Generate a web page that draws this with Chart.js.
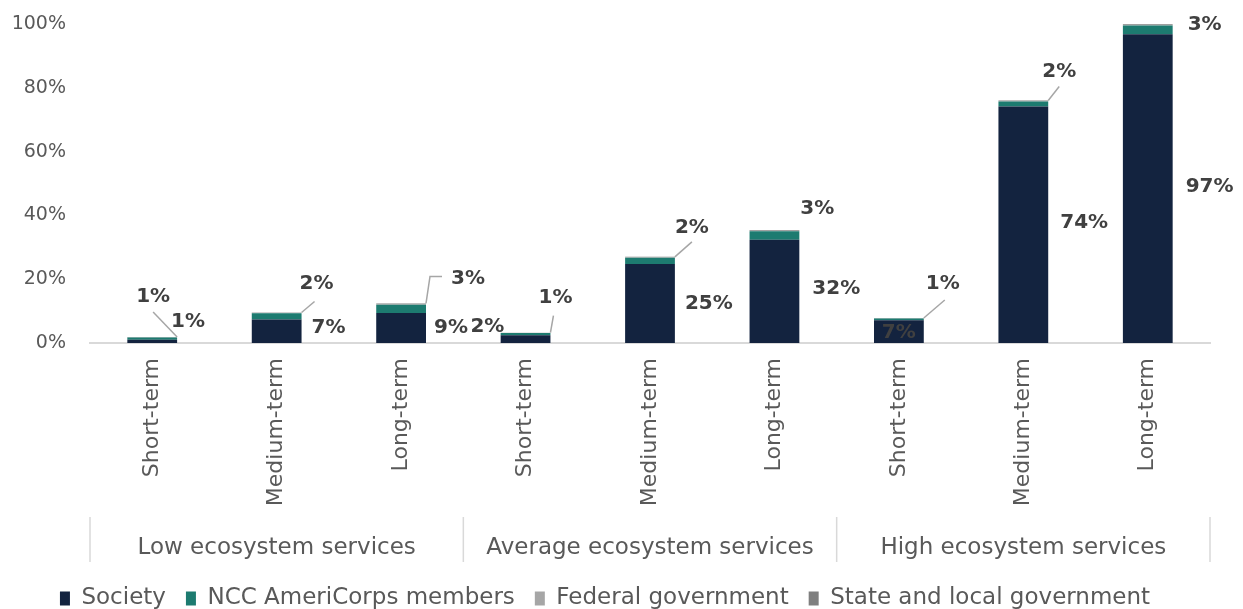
<!DOCTYPE html>
<html>
<head>
<meta charset="utf-8">
<script src="https://cdn.jsdelivr.net/npm/chart.js@4/dist/chart.umd.min.js"></script>
<style>
html,body{margin:0;padding:0;background:#fff;}
#wrap{width:1243px;height:609px;position:relative;}
</style>
</head>
<body>
<div id="wrap"><canvas id="c" width="1243" height="609"></canvas></div>
<script>
const categories = ['Short-term','Medium-term','Long-term','Short-term','Medium-term','Long-term','Short-term','Medium-term','Long-term'];
const groups = ['Low ecosystem services','Average ecosystem services','High ecosystem services'];
const society = [1.0, 7.4, 9.4, 2.4, 24.8, 32.4, 7.1, 74.1, 96.8];
const ncc = [0.7, 1.9, 2.6, 0.7, 1.9, 2.6, 0.6, 1.6, 2.7];
const federal = [0.1, 0.15, 0.2, 0.1, 0.15, 0.2, 0.1, 0.15, 0.2];
const stateLocal = [0.05, 0.1, 0.2, 0.05, 0.15, 0.2, 0.05, 0.15, 0.2];
const seriesNames = ['Society','NCC AmeriCorps members','Federal government','State and local government'];
const yTicks = [0, 20, 40, 60, 80, 100];

// label layout (offsets relative to bar geometry)
const socLabelShift = [[-6,-20],[10,-3],[8,0],[-80,-12],[10,0],[13,-3],[-42,1],[12,-2],[13,-2]];
const nccLabelShift = [[-24,-40],[15,-29],[42,-25],[5,-35],[17,-29],[18,-21],[19,-34],[11,-29],[32,0]];
const leaders = [[[-24,-25]],[[13,-11]],[[4,-27],[16,-27]],[[3,-17]],[[17,-15]],[],[[21,-18]],[[11,-14]],[]];

const FONT = '"DejaVu Sans", sans-serif';
const colors = ['#13233f', '#1d7b70', '#a6a6a6', '#7f7f7f'];

const labelPlugin = {
  id: 'valueLabels',
  afterDatasetsDraw(chart) {
    const ctx = chart.ctx;
    const m0 = chart.getDatasetMeta(0), m3 = chart.getDatasetMeta(3);
    ctx.save();
    ctx.font = 'bold 20px ' + FONT;
    ctx.fillStyle = '#404040';
    ctx.textBaseline = 'middle';
    society.forEach((v, i) => {
      const b = m0.data[i];
      const R = b.x + b.width / 2;
      const mid = (b.y + b.base) / 2;
      ctx.textAlign = 'left';
      ctx.fillText(Math.round(v) + '%', R + socLabelShift[i][0], mid + socLabelShift[i][1]);
      const T = m3.data[i].y;
      if (leaders[i].length) {
        ctx.strokeStyle = '#a6a6a6';
        ctx.lineWidth = 1.5;
        ctx.beginPath();
        ctx.moveTo(R, T);
        leaders[i].forEach(p => ctx.lineTo(R + p[0], T + p[1]));
        ctx.stroke();
      }
      ctx.textAlign = 'center';
      ctx.fillText(Math.round(ncc[i]) + '%', R + nccLabelShift[i][0], T + nccLabelShift[i][1]);
    });
    ctx.restore();
  }
};

const groupPlugin = {
  id: 'groupLabels',
  afterDraw(chart) {
    const ctx = chart.ctx;
    const xs = chart.scales.x;
    const gw = (xs.right - xs.left) / groups.length;
    ctx.save();
    ctx.strokeStyle = '#d9d9d9';
    ctx.lineWidth = 1.5;
    for (let k = 0; k <= groups.length; k++) {
      const x = xs.left + k * gw;
      ctx.beginPath();
      ctx.moveTo(x, 517);
      ctx.lineTo(x, 562);
      ctx.stroke();
    }
    ctx.font = '23px ' + FONT;
    ctx.fillStyle = '#595959';
    ctx.textAlign = 'center';
    ctx.textBaseline = 'middle';
    groups.forEach((g, k) => ctx.fillText(g, xs.left + (k + 0.5) * gw, 548));
    ctx.restore();
  }
};

const dataArrays = [society, ncc, federal, stateLocal];
new Chart(document.getElementById('c'), {
  type: 'bar',
  data: {
    labels: categories,
    datasets: dataArrays.map((d, k) => ({
      label: seriesNames[k],
      data: d,
      backgroundColor: colors[k],
      borderWidth: 0,
      barPercentage: 0.4,
      categoryPercentage: 1.0
    }))
  },
  options: {
    responsive: false,
    animation: false,
    layout: { padding: { top: 24, right: 33, left: 0, bottom: -11 } },
    plugins: {
      legend: {
        position: 'bottom',
        labels: {
          boxWidth: 10, boxHeight: 14, padding: 20,
          color: '#595959',
          font: { family: FONT, size: 23 }
        }
      },
      tooltip: { enabled: false }
    },
    scales: {
      x: {
        stacked: true,
        grid: { display: false, drawTicks: false },
        border: { display: true, color: '#d9d9d9', width: 2 },
        ticks: {
          color: '#595959', font: { family: FONT, size: 22 },
          maxRotation: 90, minRotation: 90, padding: 15, autoSkip: false
        },
        afterFit(scale) { scale.height = 224; scale.paddingTop = 0; scale.paddingBottom = 0; }
      },
      y: {
        stacked: true,
        min: 0, max: 100,
        afterBuildTicks(scale) { scale.ticks = yTicks.map(v => ({ value: v })); },
        grid: { display: false, drawTicks: false },
        border: { display: false },
        ticks: {
          color: '#595959', font: { family: FONT, size: 19 }, padding: 24,
          callback: v => v + '%'
        },
        afterFit(scale) { scale.width = 90; scale.paddingTop = 0; scale.paddingBottom = 0; }
      }
    }
  },
  plugins: [labelPlugin, groupPlugin]
});
</script>
</body>
</html>
